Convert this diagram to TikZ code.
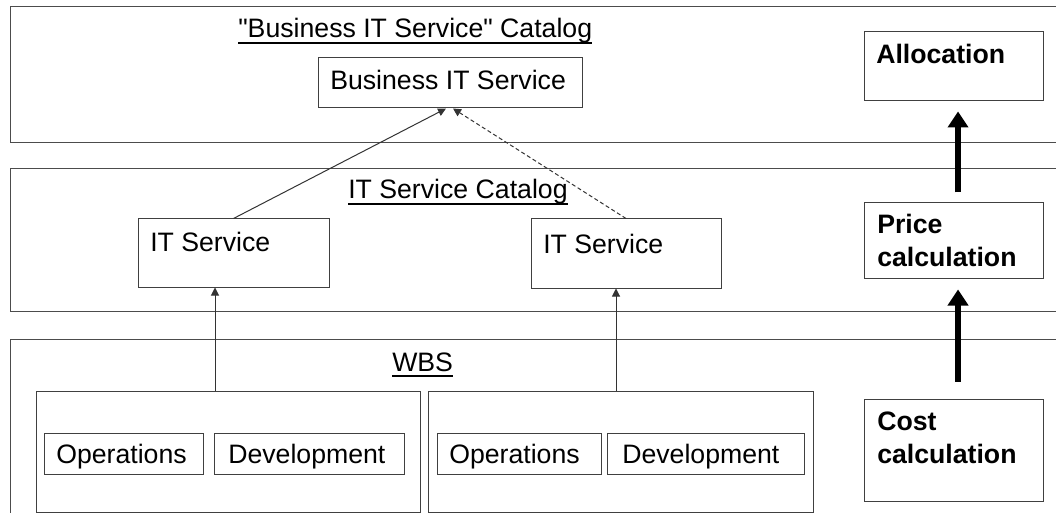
\documentclass[tikz,border=0pt]{standalone}
\usepackage{fontspec}
\newfontfamily\diagfont{Liberation Sans}
\usetikzlibrary{arrows.meta,fit}
% straight double quote, set as a glyph so no ligature mapping curls it
\newcommand\sq{\XeTeXglyph\XeTeXcharglyph"22\relax}

\begin{document}
\begin{tikzpicture}[x=0.75pt,y=-0.75pt,
  band/.style={draw=black!70, line width=0.75pt, inner sep=0pt},
  box/.style={draw=black!75, line width=0.75pt, inner sep=0pt, fill=white},
  txt/.style={inner sep=0pt, anchor=base west, font=\diagfont\fontsize{20}{24}\selectfont},
  btxt/.style={txt, font=\diagfont\bfseries\fontsize{20}{24.75}\selectfont, align=left},
  uline/.style={draw=black, line width=1pt},
  arr/.style={draw=black!80, line width=0.75pt, -{Triangle[length=6pt,width=6pt]}},
  darr/.style={arr, dash pattern=on 3pt off 2pt},
  bigarr/.style={draw=black, line width=4.5pt, -{Triangle[length=12pt,width=15pt]}}]

\useasboundingbox (0,0) rectangle (1056,513);
\clip (0,0) rectangle (1056,513);

% three catalogue bands, running off the right edge
\node[band, fit={(10,7) (1080,143)}] (bandbiz) {};
\node[band, fit={(10,169) (1080,311)}] (bandit) {};
\node[band, fit={(10,339) (1080,540)}] (bandwbs) {};

% band titles
\node[txt] (catbiz) at (238,38) {\sq Business IT Service\sq{} Catalog};
\node[txt] (catit) at (348,199) {IT Service Catalog};
\node[txt] (catwbs) at (392,371) {WBS};
\draw[uline] ([yshift=-3.75pt]catbiz.base west) -- ([yshift=-3.75pt]catbiz.base east);
\draw[uline] ([yshift=-3.75pt]catit.base west) -- ([yshift=-3.75pt]catit.base east);
\draw[uline] ([yshift=-3.75pt]catwbs.base west) -- ([yshift=-3.75pt]catwbs.base east);

% service boxes
\node[box, fit={(318,58) (582,108)}] (biz) {};
\node[txt] (biztxt) at (330,90) {Business IT Service};
\node[box, fit={(138,219) (329,287)}] (its1) {};
\node[txt] (its1txt) at (150,252) {IT Service};
\node[box, fit={(531,219) (721,288)}] (its2) {};
\node[txt] (its2txt) at (543,253) {IT Service};

% WBS groups
\node[box, fit={(36,391) (420,512)}] (grp1) {};
\node[box, fit={(44,433) (203,474)}] (ops1) {};
\node[box, fit={(214,433) (404,474)}] (dev1) {};
\node[txt] (ops1txt) at (56,463) {Operations};
\node[txt] (dev1txt) at (228,463) {Development};
\node[box, fit={(428,391) (813,512)}] (grp2) {};
\node[box, fit={(437,433) (601,474)}] (ops2) {};
\node[box, fit={(607,433) (804,474)}] (dev2) {};
\node[txt] (ops2txt) at (449,463) {Operations};
\node[txt] (dev2txt) at (622,463) {Development};

% calculation steps (two-line labels sit on the baseline of their last line)
\node[box, fit={(864,32) (1043,101)}] (alloc) {};
\node[btxt] (alloctxt) at (876,64) {Allocation};
\node[box, fit={(864,203) (1043,279)}] (price) {};
\node[btxt] (pricetxt) at (877,267) {Price\\calculation};
\node[box, fit={(864,399) (1043,501)}] (cost) {};
\node[btxt] (costtxt) at (877,463) {Cost\\calculation};

% connectors
\coordinate (xa) at (215,0);
\coordinate (xb) at (616,0);
\draw[arr] (grp1.north -| xa) -- (its1.south -| xa);
\draw[arr] (grp2.north -| xb) -- (its2.south -| xb);
\draw[arr] (its1.north) -- ([xshift=-3pt]biz.south);
\draw[darr] (its2.north) -- ([xshift=2.25pt]biz.south);
\draw[bigarr] ([xshift=3.4pt,yshift=7.5pt]price.north) -- ([xshift=3.4pt,yshift=-7.5pt]alloc.south);
\draw[bigarr] ([xshift=3.4pt,yshift=12.75pt]cost.north) -- ([xshift=3.4pt,yshift=-7.5pt]price.south);
\end{tikzpicture}
\end{document}
